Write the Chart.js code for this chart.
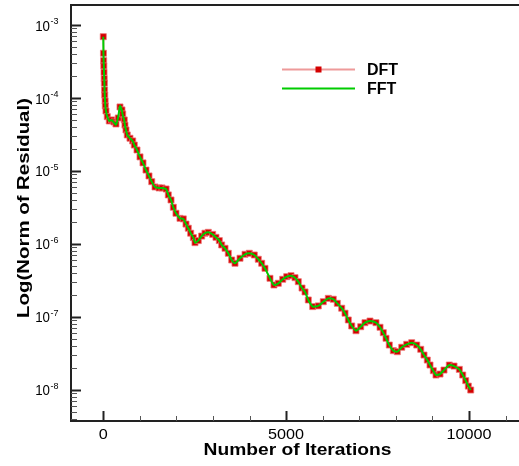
<!DOCTYPE html>
<html>
<head>
<meta charset="utf-8">
<script src="https://cdn.jsdelivr.net/npm/chart.js@4.4.1/dist/chart.umd.min.js"></script>
<style>
  html, body { margin: 0; padding: 0; background: #fff; overflow: hidden; }
  canvas { display: block; }
</style>
</head>
<body>
<canvas id="residualChart" width="519" height="466"></canvas>
<script>
// convergence history, sampled along the curve
const iterations = [
  0, 5, 10, 15, 20, 25, 30, 35, 40, 50, 55, 74, 109, 164, 230, 293, 347, 410, 457, 511,
  531, 574, 593, 621, 656, 730, 804, 848, 922, 1004, 1086, 1168, 1250, 1325, 1415, 1525, 1607, 1717, 1778, 1852,
  1915, 1988, 2098, 2188, 2262, 2325, 2390, 2462, 2508, 2598, 2691, 2781, 2872, 2992, 3082, 3173, 3238, 3329, 3419, 3512,
  3602, 3739, 3876, 3993, 4130, 4239, 4332, 4422, 4559, 4668, 4786, 4907, 5016, 5134, 5243, 5333, 5435, 5517, 5607, 5727,
  5880, 6017, 6154, 6290, 6400, 6520, 6611, 6701, 6794, 6911, 7040, 7157, 7294, 7458, 7568, 7658, 7732, 7822, 7932, 8041,
  8162, 8298, 8435, 8572, 8681, 8771, 8861, 8935, 9026, 9099, 9209, 9318, 9463, 9592, 9737, 9830, 9912, 9983, 10048
];
const dftResidual = [
  6.95e-4, 4.12e-4, 3.26e-4, 2.76e-4, 2.26e-4, 1.85e-4, 1.60e-4, 1.29e-4, 1.10e-4, 9.12e-5, 7.79e-5, 6.65e-5, 5.56e-5, 4.85e-5, 5.01e-5, 4.70e-5, 4.41e-5, 5.33e-5, 7.55e-5, 6.87e-5,
  6.05e-5, 5.01e-5, 4.25e-5, 3.65e-5, 3.12e-5, 2.81e-5, 2.58e-5, 2.27e-5, 1.94e-5, 1.56e-5, 1.29e-5, 1.03e-5, 8.54e-6, 7.13e-6, 6.03e-6, 5.85e-6, 5.85e-6, 5.66e-6, 4.69e-6, 4.00e-6,
  3.18e-6, 2.63e-6, 2.24e-6, 2.20e-6, 1.87e-6, 1.64e-6, 1.40e-6, 1.22e-6, 1.04e-6, 1.11e-6, 1.28e-6, 1.40e-6, 1.44e-6, 1.35e-6, 1.23e-6, 1.11e-6, 9.66e-7, 8.70e-7, 7.43e-7, 6.01e-7,
  5.42e-7, 6.35e-7, 7.20e-7, 7.43e-7, 7.04e-7, 6.15e-7, 5.42e-7, 4.62e-7, 3.37e-7, 2.73e-7, 2.88e-7, 3.27e-7, 3.55e-7, 3.66e-7, 3.44e-7, 3.03e-7, 2.48e-7, 2.19e-7, 1.70e-7, 1.38e-7,
  1.41e-7, 1.61e-7, 1.79e-7, 1.74e-7, 1.53e-7, 1.31e-7, 1.12e-7, 9.04e-8, 7.48e-8, 6.44e-8, 7.31e-8, 8.30e-8, 8.75e-8, 8.30e-8, 7.18e-8, 6.05e-8, 5.07e-8, 4.10e-8, 3.43e-8, 3.32e-8,
  3.82e-8, 4.19e-8, 4.41e-8, 4.10e-8, 3.58e-8, 2.99e-8, 2.55e-8, 2.18e-8, 1.82e-8, 1.59e-8, 1.64e-8, 1.86e-8, 2.18e-8, 2.11e-8, 1.90e-8, 1.59e-8, 1.33e-8, 1.12e-8, 9.9e-9
];
const fftResidual = [
  6.95e-4, 4.12e-4, 3.26e-4, 2.76e-4, 2.26e-4, 1.85e-4, 1.60e-4, 1.29e-4, 1.10e-4, 9.12e-5, 7.79e-5, 6.65e-5, 5.56e-5, 4.85e-5, 5.01e-5, 4.60e-5, 4.30e-5, 5.60e-5, 7.80e-5, 6.70e-5,
  5.90e-5, 4.90e-5, 4.20e-5, 3.65e-5, 3.12e-5, 2.81e-5, 2.58e-5, 2.27e-5, 1.94e-5, 1.56e-5, 1.29e-5, 1.03e-5, 8.54e-6, 7.13e-6, 6.03e-6, 5.85e-6, 5.85e-6, 5.66e-6, 4.69e-6, 4.00e-6,
  3.18e-6, 2.63e-6, 2.24e-6, 2.20e-6, 1.87e-6, 1.64e-6, 1.40e-6, 1.22e-6, 1.04e-6, 1.11e-6, 1.28e-6, 1.40e-6, 1.44e-6, 1.35e-6, 1.23e-6, 1.11e-6, 9.66e-7, 8.70e-7, 7.43e-7, 6.01e-7,
  5.42e-7, 6.35e-7, 7.20e-7, 7.43e-7, 7.04e-7, 6.15e-7, 5.42e-7, 4.62e-7, 3.37e-7, 2.73e-7, 2.88e-7, 3.27e-7, 3.55e-7, 3.66e-7, 3.44e-7, 3.03e-7, 2.48e-7, 2.19e-7, 1.70e-7, 1.38e-7,
  1.41e-7, 1.61e-7, 1.79e-7, 1.74e-7, 1.53e-7, 1.31e-7, 1.12e-7, 9.04e-8, 7.48e-8, 6.44e-8, 7.31e-8, 8.30e-8, 8.75e-8, 8.30e-8, 7.18e-8, 6.05e-8, 5.07e-8, 4.10e-8, 3.43e-8, 3.32e-8,
  3.82e-8, 4.19e-8, 4.41e-8, 4.10e-8, 3.58e-8, 2.99e-8, 2.55e-8, 2.18e-8, 1.82e-8, 1.59e-8, 1.64e-8, 1.86e-8, 2.18e-8, 2.11e-8, 1.90e-8, 1.59e-8, 1.33e-8, 1.12e-8, 9.9e-9
];
const seriesNames = ['DFT', 'FFT'];
const xMajorTicks = [0, 5000, 10000];
const yDecades = [-9, -8, -7, -6, -5, -4, -3];

const AXIS = '#222';
const DFT_LINE = '#ee9a9a';
const DFT_MARK = '#d40000';
const FFT_LINE = '#00cc00';
const FONT = '"Liberation Sans", Arial, Helvetica, sans-serif';

function toPoints(xs, ys) {
  return xs.map((x, i) => ({ x: x, y: ys[i] }));
}

// text squeezed/stretched along its reading direction
function wideText(ctx, text, x, y, sx, align, angle) {
  ctx.save();
  ctx.translate(x, y);
  if (angle) ctx.rotate(angle);
  ctx.scale(sx, 1);
  ctx.textAlign = align;
  ctx.textBaseline = 'alphabetic';
  ctx.fillText(text, 0, 0);
  ctx.restore();
}

const framePlugin = {
  id: 'frame',
  afterDraw(chart) {
    const ctx = chart.ctx;
    const area = chart.chartArea;
    const xs = chart.scales.x;
    const ys = chart.scales.y;
    ctx.save();

    // top edge of the frame
    ctx.strokeStyle = AXIS;
    ctx.lineWidth = 2;
    ctx.beginPath();
    ctx.moveTo(area.left - 1, area.top);
    ctx.lineTo(chart.width, area.top);
    ctx.stroke();

    // inward ticks on the log axis
    yDecades.forEach(e => {
      for (let m = 1; m <= 9; m++) {
        const v = m * Math.pow(10, e);
        if (v < ys.min || v > ys.max) continue;
        const py = Math.round(ys.getPixelForValue(v)) + 0.5;
        ctx.lineWidth = m === 1 ? 2 : 1;
        ctx.strokeStyle = m === 1 ? AXIS : '#555';
        ctx.beginPath();
        ctx.moveTo(area.left, py);
        ctx.lineTo(area.left + (m === 1 ? 10 : 6), py);
        ctx.stroke();
      }
    });

    // inward ticks on the iteration axis
    for (let it = -1000; it <= 12000; it += 1000) {
      if (it < xs.min || it > xs.max) continue;
      const major = xMajorTicks.includes(it);
      const px = Math.round(xs.getPixelForValue(it)) + 0.5;
      ctx.lineWidth = major ? 2 : 1;
      ctx.strokeStyle = major ? AXIS : '#555';
      ctx.beginPath();
      ctx.moveTo(px, area.bottom);
      ctx.lineTo(px, area.bottom - (major ? 10 : 5));
      ctx.stroke();
    }

    // tick labels
    ctx.fillStyle = '#000';
    yDecades.forEach(e => {
      const v = Math.pow(10, e);
      if (v < ys.min || v > ys.max) return;
      const py = ys.getPixelForValue(v);
      ctx.font = '14px ' + FONT;
      wideText(ctx, '10', 50, py + 5.5, 0.95, 'right');
      ctx.font = '9px ' + FONT;
      wideText(ctx, String(e), 50.5, py - 1, 1, 'left');
    });
    ctx.font = '15px ' + FONT;
    xMajorTicks.forEach(t => {
      wideText(ctx, String(t), xs.getPixelForValue(t), 438.5, 1.08, 'center');
    });

    // axis titles
    ctx.font = 'bold 16px ' + FONT;
    wideText(ctx, 'Number of Iterations', 297.5, 454.5, 1.2, 'center');
    ctx.font = 'bold 17px ' + FONT;
    wideText(ctx, 'Log(Norm of Residual)', 29, 208, 1.2, 'center', -Math.PI / 2);

    // legend
    const lx0 = 282, lx1 = 355, tx = 367;
    const rows = [69.5, 88.5];
    ctx.lineWidth = 2;
    ctx.strokeStyle = DFT_LINE;
    ctx.beginPath();
    ctx.moveTo(lx0, rows[0]);
    ctx.lineTo(lx1, rows[0]);
    ctx.stroke();
    ctx.fillStyle = DFT_MARK;
    ctx.fillRect(315.5, rows[0] - 3, 6, 6);
    ctx.strokeStyle = FFT_LINE;
    ctx.beginPath();
    ctx.moveTo(lx0, rows[1]);
    ctx.lineTo(lx1, rows[1]);
    ctx.stroke();
    ctx.fillStyle = '#000';
    ctx.font = 'bold 16px ' + FONT;
    seriesNames.forEach((name, i) => {
      wideText(ctx, name, tx, rows[i] + 5.8, 1, 'left');
    });

    ctx.restore();
  }
};

const ctx = document.getElementById('residualChart').getContext('2d');
const chart = new Chart(ctx, {
  type: 'line',
  data: {
    datasets: [
      {
        label: seriesNames[0],
        data: toPoints(iterations, dftResidual),
        borderColor: DFT_LINE,
        borderWidth: 1.5,
        pointStyle: 'rect',
        pointRadius: 4.3,
        pointBackgroundColor: DFT_MARK,
        pointBorderColor: 'rgba(236,120,120,0.75)',
        pointBorderWidth: 1,
        tension: 0,
        order: 1
      },
      {
        label: seriesNames[1],
        data: toPoints(iterations, fftResidual),
        borderColor: FFT_LINE,
        borderWidth: 2,
        pointRadius: 0,
        tension: 0.2,
        order: 0
      }
    ]
  },
  options: {
    responsive: false,
    animation: false,
    layout: { autoPadding: false, padding: { left: 71, top: 5, right: 0, bottom: 45 } },
    plugins: {
      legend: { display: false },
      tooltip: { enabled: false }
    },
    scales: {
      x: {
        type: 'linear',
        min: -883,
        max: 11369,
        ticks: { display: false },
        grid: { display: false, drawTicks: false },
        border: { display: true, color: AXIS, width: 2 }
      },
      y: {
        type: 'logarithmic',
        min: 3.72e-9,
        max: 1.89e-3,
        ticks: { display: false },
        grid: { display: false, drawTicks: false },
        border: { display: true, color: AXIS, width: 2 }
      }
    }
  },
  plugins: [framePlugin]
});
</script>
</body>
</html>
